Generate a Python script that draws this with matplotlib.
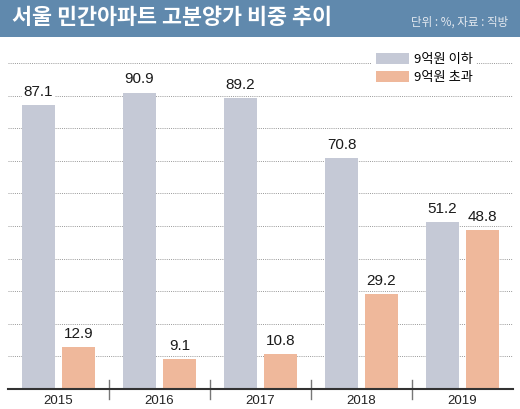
import matplotlib
matplotlib.use('Agg')
import matplotlib.pyplot as plt
from matplotlib.patches import Rectangle
import numpy as np

plt.rcParams['font.family'] = ['Liberation Sans', 'Noto Sans CJK KR', 'DejaVu Sans']

# data
years = ['2015', '2016', '2017', '2018', '2019']
below_9 = [87.1, 90.9, 89.2, 70.8, 51.2]   # 9억원 이하
above_9 = [12.9, 9.1, 10.8, 29.2, 48.8]    # 9억원 초과
title = '서울 민간아파트 고분양가 비중 추이'
note = '단위 : %, 자료 : 직방'
labels = ['9억원 이하', '9억원 초과']

gray = '#c5c9d6'
orange = '#efb89b'
header = '#6089ad'

W, H = 520, 409
fig = plt.figure(figsize=(W / 100, H / 100), dpi=100, facecolor='w')

# header band
fig.patches.append(Rectangle((0, 1 - 37 / H), 1, 37 / H, transform=fig.transFigure,
                             facecolor=header, edgecolor='none', zorder=0))
fig.text(12 / W, 1 - 18 / H, title, color='w', fontsize=15.7, fontweight='bold',
         family=['Noto Sans CJK KR'], va='center', ha='left')
fig.text(508 / W, 1 - 22 / H, note, color='#e4e9f0', fontsize=8.3,
         family=['Noto Sans CJK KR'], va='center', ha='right')

ax = fig.add_axes([8 / W, (H - 389) / H, 505 / W, 326 / H])
x = np.arange(len(years))
w = 0.327
off = 0.198
ax.bar(x - off, below_9, w, color=gray, zorder=3, label=labels[0])
ax.bar(x + off, above_9, w, color=orange, zorder=3, label=labels[1])

for xs, vals in ((x - off, below_9), (x + off, above_9)):
    for xi, v in zip(xs, vals):
        ax.annotate(f'{v:.1f}', (xi, v), xytext=(0, 4.5), textcoords='offset points',
                    ha='center', va='bottom', fontsize=11, color='#1a1a1a', zorder=4,
                    bbox=dict(facecolor='w', edgecolor='none', pad=1.5))

ax.set_xlim(-0.5, len(years) - 0.5)
ax.set_ylim(0, 100)
ax.set_yticks(np.arange(10, 101, 10))
ax.grid(axis='y', color='#999999', ls=(0, (1, 1.2)), lw=0.7, zorder=1)
ax.set_axisbelow(True)
ax.tick_params(length=0, labelleft=False)
ax.set_xticks(x)
ax.set_xticklabels(years, fontsize=9.5, color='#222222')
ax.tick_params(axis='x', pad=4)
for s in ('top', 'right', 'left'):
    ax.spines[s].set_visible(False)
ax.spines['bottom'].set_color('#333333')
ax.spines['bottom'].set_linewidth(1.5)
ax.spines['bottom'].set_zorder(5)

# group separators
for sx in x[:-1] + 0.5:
    ax.plot([sx, sx], [-3, 2.8], color='#777777', lw=1, clip_on=False, zorder=5)

leg = ax.legend(loc='upper left', bbox_to_anchor=(372 / W, 1 - 49 / H),
                bbox_transform=fig.transFigure, frameon=True, fancybox=False,
                edgecolor='none', facecolor='w', framealpha=1,
                handlelength=2.5, handleheight=0.9, labelspacing=0.4,
                handletextpad=0.35, borderpad=0.3, borderaxespad=0,
                prop={'family': 'Noto Sans CJK KR', 'size': 9.5})
leg.set_zorder(6)

fig.savefig('out.png', dpi=100, facecolor='w')
